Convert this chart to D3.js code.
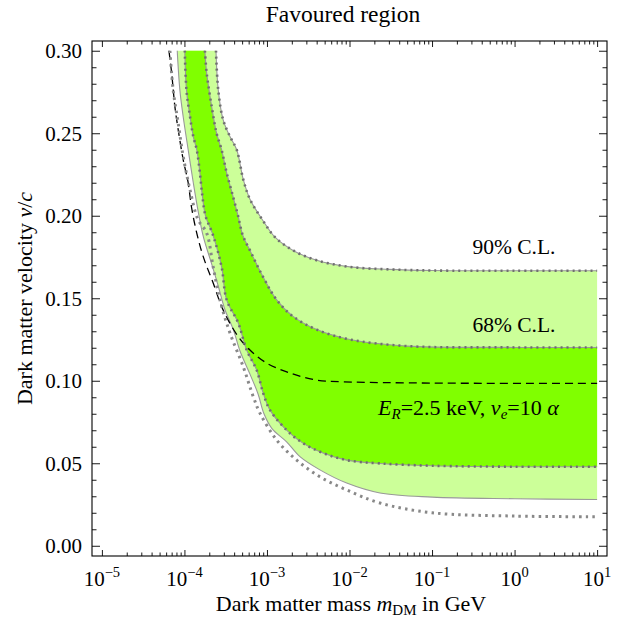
<!DOCTYPE html>
<html>
<head>
<meta charset="utf-8">
<script src="https://cdn.jsdelivr.net/npm/d3@7"></script>
<style>
  body { margin: 0; background: #fff; }
  svg text { font-family: "Liberation Serif", "Times New Roman", serif; fill: #000; }
</style>
</head>
<body>
<div id="container"></div>
<script>
// chart size
const width = 631, height = 621;
const plot = {left: 92, right: 607, top: 41, bottom: 556};

// curves: [mass in GeV, v/c]
const cl90Upper = [
  [2.41e-4, 0.300], [2.57e-4, 0.276], [2.95e-4, 0.258], [3.56e-4, 0.248],
  [4.30e-4, 0.240], [5.16e-4, 0.222], [6.22e-4, 0.210], [8.95e-4, 0.197],
  [1.25e-3, 0.187], [2.07e-3, 0.179], [4.00e-3, 0.173], [1.01e-2, 0.169],
  [3.0e-2, 0.1675], [0.1, 0.1668], [1, 0.1667], [10, 0.1667]
];
const cl90Lower = [
  [8.18e-5, 0.300], [8.81e-5, 0.276], [9.66e-5, 0.260], [1.11e-4, 0.240],
  [1.28e-4, 0.220], [1.45e-4, 0.204], [1.70e-4, 0.187], [2.10e-4, 0.172],
  [2.55e-4, 0.158], [3.10e-4, 0.143], [3.91e-4, 0.131], [4.71e-4, 0.118],
  [6.22e-4, 0.104], [7.80e-4, 0.092], [9.20e-4, 0.080], [1.15e-3, 0.071],
  [1.73e-3, 0.063], [2.51e-3, 0.054], [4.38e-3, 0.046], [9.25e-3, 0.038],
  [2.34e-2, 0.032], [0.1, 0.0295], [1, 0.0285], [10, 0.0280]
];
const cl68Upper = [
  [1.77e-4, 0.300], [1.86e-4, 0.2865], [2.14e-4, 0.266], [2.45e-4, 0.250],
  [2.82e-4, 0.240], [3.25e-4, 0.226], [3.91e-4, 0.211], [4.49e-4, 0.1994],
  [5.10e-4, 0.188], [6.22e-4, 0.179], [8.95e-4, 0.163], [1.31e-3, 0.149],
  [2.07e-3, 0.139], [4.00e-3, 0.131], [1.01e-2, 0.125], [5.0e-2, 0.121],
  [1, 0.1202], [10, 0.1202]
];
const cl68Lower = [
  [1.01e-4, 0.300], [1.06e-4, 0.276], [1.17e-4, 0.260], [1.28e-4, 0.248],
  [1.41e-4, 0.240], [1.54e-4, 0.226], [1.65e-4, 0.212], [1.80e-4, 0.200],
  [2.23e-4, 0.188], [2.82e-4, 0.169], [3.25e-4, 0.149], [4.49e-4, 0.135],
  [5.68e-4, 0.1186], [7.50e-4, 0.1065], [9.0e-4, 0.0925], [1.09e-3, 0.0822],
  [1.73e-3, 0.0701], [2.73e-3, 0.0622], [4.78e-3, 0.0562], [9.25e-3, 0.0519],
  [2.34e-2, 0.0499], [0.1, 0.0485], [1, 0.0479], [10, 0.0479]
];
const outerDotted = [
  [6.67e-5, 0.300], [7.31e-5, 0.276], [8.41e-5, 0.256], [9.66e-5, 0.236],
  [1.17e-4, 0.2156], [1.45e-4, 0.198], [1.86e-4, 0.1895], [2.23e-4, 0.169],
  [2.69e-4, 0.149], [3.56e-4, 0.129], [5.16e-4, 0.1085], [6.83e-4, 0.0903],
  [8.22e-4, 0.0804], [1.31e-3, 0.0641], [2.29e-3, 0.0519], [4.38e-3, 0.0418],
  [9.25e-3, 0.0338], [2.34e-2, 0.0259], [0.1, 0.020], [1, 0.018], [10, 0.0176]
];
const dashedCurve = [
  [6.49e-5, 0.300], [7.00e-5, 0.2865], [7.67e-5, 0.266], [8.41e-5, 0.252],
  [9.66e-5, 0.234], [1.11e-4, 0.220], [1.22e-4, 0.205], [1.41e-4, 0.1895],
  [1.69e-4, 0.1752], [2.23e-4, 0.1592], [2.95e-4, 0.1428], [4.49e-4, 0.1267],
  [6.22e-4, 0.1186], [9.91e-4, 0.1107], [1.90e-3, 0.1047], [4.00e-3, 0.1004],
  [8.34e-3, 0.0994], [0.1, 0.0986], [10, 0.0984]
];

// ticks
const xMajor = [1e-5, 1e-4, 1e-3, 1e-2, 1e-1, 1, 10];
const xExponents = ["−5", "−4", "−3", "−2", "−1", "0", "1"];
const yMajor = [0, 0.05, 0.10, 0.15, 0.20, 0.25, 0.30];

const xScale = d3.scaleLog()
  .domain([Math.pow(10, -5.12), Math.pow(10, 1.12)])
  .range([plot.left, plot.right]);
const yScale = d3.scaleLinear()
  .domain([-0.0062, 0.3059])
  .range([plot.bottom, plot.top]);

const xMinor = [];
xMajor.slice(0, -1).forEach(d => { for (let k = 2; k <= 9; k++) xMinor.push(d * k); });
const yMinor = d3.range(0, 31).map(i => i / 100).filter(d => Math.round(d * 100) % 5 !== 0);

const svg = d3.select("#container").append("svg")
  .attr("width", width)
  .attr("height", height);

const line = d3.line()
  .x(d => xScale(d[0]))
  .y(d => yScale(d[1]))
  .curve(d3.curveCatmullRom.alpha(0.5));

// band between a lower and an upper curve
function band(lo, hi) {
  return line(lo) + "L" + line(hi.slice().reverse()).slice(1) + "Z";
}

svg.append("path")
  .attr("d", band(cl90Lower, cl90Upper))
  .attr("fill", "#ccff99");
svg.append("path")
  .attr("d", band(cl68Lower, cl68Upper))
  .attr("fill", "#80ff00");

// thin grey edges
[cl90Lower, cl90Upper, cl68Lower, cl68Upper].forEach(c => {
  svg.append("path").attr("d", line(c))
    .attr("fill", "none").attr("stroke", "#999").attr("stroke-width", 1.1);
});

// dashed line
svg.append("path").attr("d", line(dashedCurve))
  .attr("fill", "none").attr("stroke", "#000")
  .attr("stroke-width", 1.3).attr("stroke-dasharray", "8,5");

// dotted contours
[cl90Upper, cl68Lower, cl68Upper].forEach(c => {
  svg.append("path").attr("d", line(c))
    .attr("fill", "none").attr("stroke", "#707070")
    .attr("stroke-width", 2.6).attr("stroke-dasharray", "2,4");
});
svg.append("path").attr("d", line(outerDotted))
  .attr("fill", "none").attr("stroke", "#888")
  .attr("stroke-width", 3).attr("stroke-dasharray", "2.5,4.2");

// axes (ticks inside on all sides)
function ticks(axis, vals, len, transform) {
  const g = svg.append("g").attr("transform", transform)
    .call(axis.tickValues(vals).tickSize(-len).tickFormat(""));
  g.select(".domain").remove();
  g.selectAll("line").attr("stroke", "#000").attr("stroke-width", 0.9);
}
ticks(d3.axisBottom(xScale), xMajor, 6, `translate(0,${plot.bottom})`);
ticks(d3.axisBottom(xScale), xMinor, 3.5, `translate(0,${plot.bottom})`);
ticks(d3.axisTop(xScale), xMajor, 6, `translate(0,${plot.top})`);
ticks(d3.axisTop(xScale), xMinor, 3.5, `translate(0,${plot.top})`);
ticks(d3.axisLeft(yScale), yMajor, 8, `translate(${plot.left},0)`);
ticks(d3.axisLeft(yScale), yMinor, 4.5, `translate(${plot.left},0)`);
ticks(d3.axisRight(yScale), yMajor, 8, `translate(${plot.right},0)`);
ticks(d3.axisRight(yScale), yMinor, 4.5, `translate(${plot.right},0)`);

svg.append("rect")
  .attr("x", plot.left).attr("y", plot.top)
  .attr("width", plot.right - plot.left).attr("height", plot.bottom - plot.top)
  .attr("fill", "none").attr("stroke", "#000").attr("stroke-width", 1.1);

// tick labels
svg.selectAll("text.ylab").data(yMajor).join("text")
  .attr("class", "ylab")
  .attr("x", plot.left - 10)
  .attr("y", d => yScale(d))
  .attr("dy", "0.35em")
  .attr("text-anchor", "end")
  .attr("font-size", 21)
  .text(d3.format(".2f"));

const xl = svg.selectAll("text.xlab").data(xMajor).join("text")
  .attr("class", "xlab")
  .attr("x", d => xScale(d))
  .attr("y", 586)
  .attr("text-anchor", "middle")
  .attr("font-size", 21);
xl.append("tspan").text("10");
xl.append("tspan").attr("dy", -9).attr("font-size", 14.5).text((d, i) => xExponents[i]);

// title and axis titles
svg.append("text")
  .attr("x", 343).attr("y", 22)
  .attr("text-anchor", "middle").attr("font-size", 23.5)
  .text("Favoured region");

const xt = svg.append("text")
  .attr("x", 351).attr("y", 611)
  .attr("text-anchor", "middle").attr("font-size", 22);
xt.append("tspan").text("Dark matter mass ");
xt.append("tspan").attr("font-style", "italic").text("m");
xt.append("tspan").attr("font-size", 15).attr("dy", 4).text("DM");
xt.append("tspan").attr("dy", -4).text(" in GeV");

const yt = svg.append("text")
  .attr("transform", `translate(32,${(plot.top + plot.bottom) / 2}) rotate(-90)`)
  .attr("text-anchor", "middle").attr("font-size", 22);
yt.append("tspan").text("Dark matter velocity ");
yt.append("tspan").attr("font-style", "italic").text("v");
yt.append("tspan").text("/");
yt.append("tspan").attr("font-style", "italic").text("c");

// annotations
svg.append("text").attr("x", 514).attr("y", 254)
  .attr("text-anchor", "middle").attr("font-size", 21.5).text("90% C.L.");
svg.append("text").attr("x", 514).attr("y", 332)
  .attr("text-anchor", "middle").attr("font-size", 21.5).text("68% C.L.");

const ann = svg.append("text").attr("x", 378).attr("y", 415).attr("font-size", 22);
ann.append("tspan").attr("font-style", "italic").text("E");
ann.append("tspan").attr("font-style", "italic").attr("font-size", 15).attr("dy", 4).text("R");
ann.append("tspan").attr("dy", -4).text("=2.5 keV, ");
ann.append("tspan").attr("font-style", "italic").text("v");
ann.append("tspan").attr("font-style", "italic").attr("font-size", 15).attr("dy", 4).text("e");
ann.append("tspan").attr("dy", -4).text("=10 ");
ann.append("tspan").attr("font-style", "italic").text("α");
</script>
</body>
</html>
